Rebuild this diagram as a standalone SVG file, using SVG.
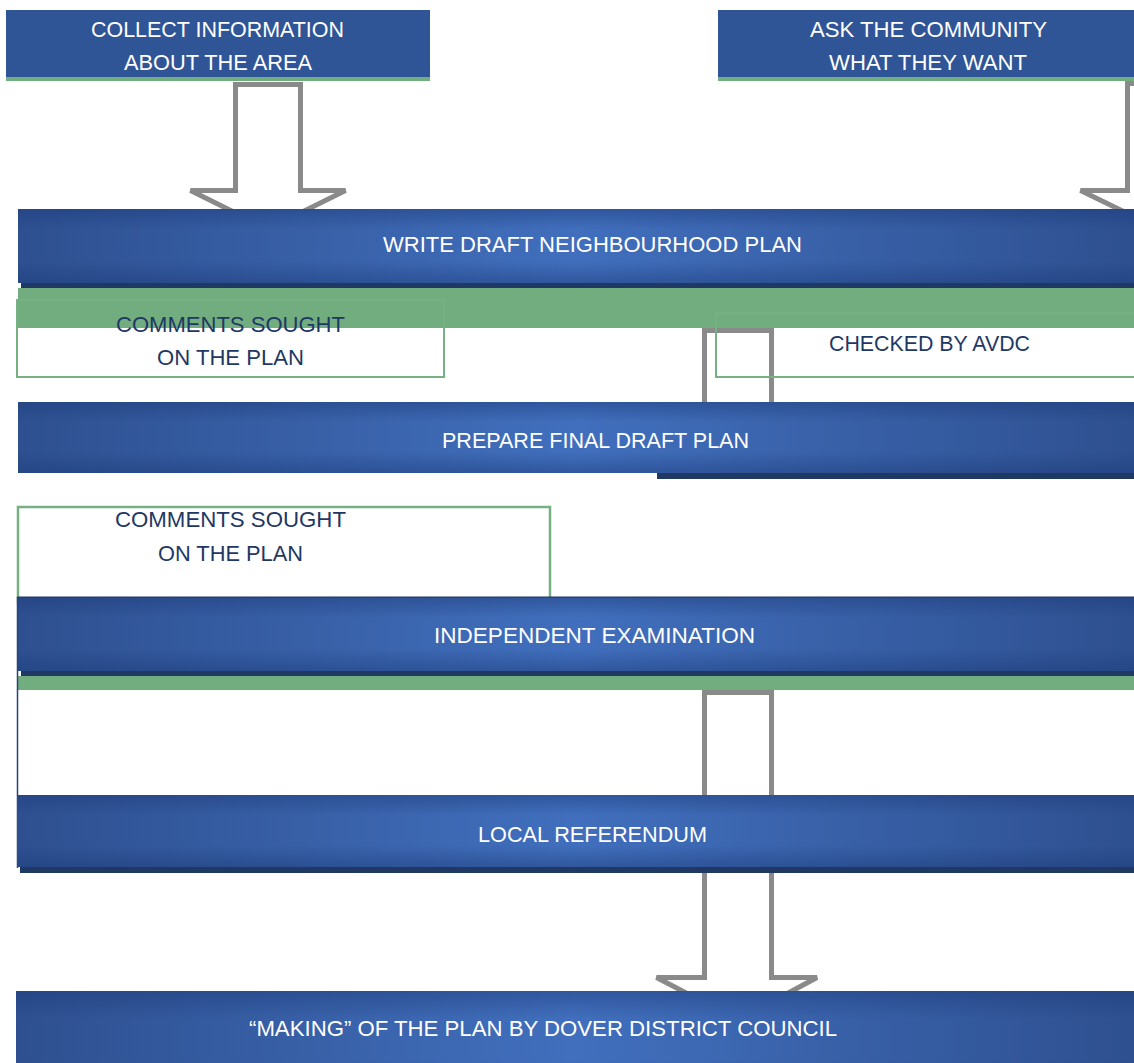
<svg xmlns="http://www.w3.org/2000/svg" width="1134" height="1063" viewBox="0 0 1134 1063">
  <defs>
    <linearGradient id="gH" x1="0" y1="0" x2="1" y2="0">
      <stop offset="0" stop-color="#2e5090"/>
      <stop offset="0.5" stop-color="#416fbd"/>
      <stop offset="1" stop-color="#2e5090"/>
    </linearGradient>
    <linearGradient id="gV" x1="0" y1="0" x2="0" y2="1">
      <stop offset="0" stop-color="#1c3a78" stop-opacity="0.45"/>
      <stop offset="0.28" stop-color="#1c3a78" stop-opacity="0"/>
      <stop offset="0.7" stop-color="#1c3a78" stop-opacity="0"/>
      <stop offset="1" stop-color="#1c3a78" stop-opacity="0.45"/>
    </linearGradient>
  </defs>
  <style>
    .flat { fill: #2f5597; }
    .grad { fill: url(#gH); }
    .shade { fill: url(#gV); }
    .dark { fill: #203864; }
    .band { fill: #72ad80; }
    .outline { fill: none; stroke: #76b083; stroke-width: 2; }
    .arrow { fill: #ffffff; stroke: #8a8a8a; stroke-width: 5; stroke-linejoin: miter; }
    .lbl { font-family: "Liberation Sans", Arial, sans-serif; font-size: 22px; fill: #ffffff; text-anchor: middle; }
    .dlbl { font-family: "Liberation Sans", Arial, sans-serif; font-size: 22px; fill: #1f3864; text-anchor: middle; }
  </style>
  <rect width="1134" height="1063" fill="#ffffff"/>

  <g id="connectors">
    <path class="arrow" d="M235.5 84.5 L300.5 84.5 L300.5 190.5 L345.5 190.5 L268 229 L190.5 190.5 L235.5 190.5 Z"/>
    <path class="arrow" d="M1127.5 83.5 L1192.5 83.5 L1192.5 190.5 L1237.5 190.5 L1160 229 L1080.5 190.5 L1127.5 190.5 Z"/>
    <path class="arrow" d="M704.5 330.5 L771.5 330.5 L771.5 420 L816.5 420 L738 458 L659.5 420 L704.5 420 Z"/>
    <path class="arrow" d="M704.5 692.5 L771.5 692.5 L771.5 798 L816.5 798 L738 836 L659.5 798 L704.5 798 Z"/>
    <path class="arrow" d="M704.5 870 L771.5 870 L771.5 977.5 L817 977.5 L738 1020 L656.5 977.5 L704.5 977.5 Z"/>
  </g>

  <g id="collect">
    <rect class="flat" x="6" y="10" width="424" height="67"/>
    <rect class="band" x="6" y="77" width="424" height="4"/>
    <text class="lbl" x="217.5" y="37" textLength="253" lengthAdjust="spacingAndGlyphs">COLLECT INFORMATION</text>
    <text class="lbl" x="218" y="70" textLength="188" lengthAdjust="spacingAndGlyphs">ABOUT THE AREA</text>
  </g>

  <g id="ask">
    <rect class="flat" x="718" y="10" width="416" height="67"/>
    <rect class="band" x="718" y="77" width="416" height="4"/>
    <text class="lbl" x="928.5" y="37" textLength="237" lengthAdjust="spacingAndGlyphs">ASK THE COMMUNITY</text>
    <text class="lbl" x="928" y="70" textLength="198" lengthAdjust="spacingAndGlyphs">WHAT THEY WANT</text>
  </g>

  <g id="write">
    <rect class="grad" x="18" y="209" width="1116" height="74"/>
    <rect class="shade" x="18" y="209" width="1116" height="74"/>
    <rect class="dark" x="21" y="283" width="1113" height="5"/>
    <rect class="band" x="18" y="288" width="1116" height="40"/>
    <text class="lbl" x="592.5" y="252" textLength="419" lengthAdjust="spacingAndGlyphs">WRITE DRAFT NEIGHBOURHOOD PLAN</text>
  </g>

  <g id="comments1">
    <rect class="outline" x="17" y="300" width="427" height="77"/>
    <text class="dlbl" x="230.5" y="332" textLength="229" lengthAdjust="spacingAndGlyphs">COMMENTS SOUGHT</text>
    <text class="dlbl" x="230.5" y="365" textLength="147" lengthAdjust="spacingAndGlyphs">ON THE PLAN</text>
  </g>

  <g id="checked">
    <rect class="outline" x="716" y="313" width="430" height="64"/>
    <text class="dlbl" x="929.5" y="351" textLength="201" lengthAdjust="spacingAndGlyphs">CHECKED BY AVDC</text>
  </g>

  <g id="prepare">
    <rect class="grad" x="18" y="402" width="1116" height="71"/>
    <rect class="shade" x="18" y="402" width="1116" height="71"/>
    <rect class="dark" x="657" y="473" width="477" height="6"/>
    <text class="lbl" x="595.5" y="448" textLength="307" lengthAdjust="spacingAndGlyphs">PREPARE FINAL DRAFT PLAN</text>
  </g>

  <g id="comments2">
    <rect x="18" y="507" width="532" height="95" fill="#ffffff" stroke="#76b083" stroke-width="2.5"/>
    <text class="dlbl" x="230.5" y="527" textLength="231" lengthAdjust="spacingAndGlyphs">COMMENTS SOUGHT</text>
    <text class="dlbl" x="230.5" y="561" textLength="145" lengthAdjust="spacingAndGlyphs">ON THE PLAN</text>
  </g>

  <g id="independent">
    <rect class="grad" x="17" y="597" width="1117" height="74"/>
    <rect class="shade" x="17" y="597" width="1117" height="74"/>
    <rect x="17" y="596.5" width="1117" height="1.2" fill="#253a66"/>
    <rect class="dark" x="21" y="671" width="1113" height="5"/>
    <rect class="band" x="18" y="676" width="1116" height="14"/>
    <line x1="17.5" y1="597" x2="17.5" y2="868" stroke="#2a4478" stroke-width="1.5"/>
    <text class="lbl" x="594.5" y="643" textLength="321" lengthAdjust="spacingAndGlyphs">INDEPENDENT EXAMINATION</text>
  </g>

  <g id="referendum">
    <rect class="grad" x="17" y="795" width="1117" height="72"/>
    <rect class="shade" x="17" y="795" width="1117" height="72"/>
    <rect class="dark" x="20" y="867" width="1114" height="6"/>
    <text class="lbl" x="592.5" y="842" textLength="229" lengthAdjust="spacingAndGlyphs">LOCAL REFERENDUM</text>
  </g>

  <g id="making">
    <rect class="grad" x="16" y="991" width="1118" height="72"/>
    <rect class="shade" x="16" y="991" width="1118" height="100"/>
    <text class="lbl" x="543" y="1036" font-size="21" textLength="588" lengthAdjust="spacingAndGlyphs">“MAKING” OF THE PLAN BY DOVER DISTRICT COUNCIL</text>
  </g>
</svg>
